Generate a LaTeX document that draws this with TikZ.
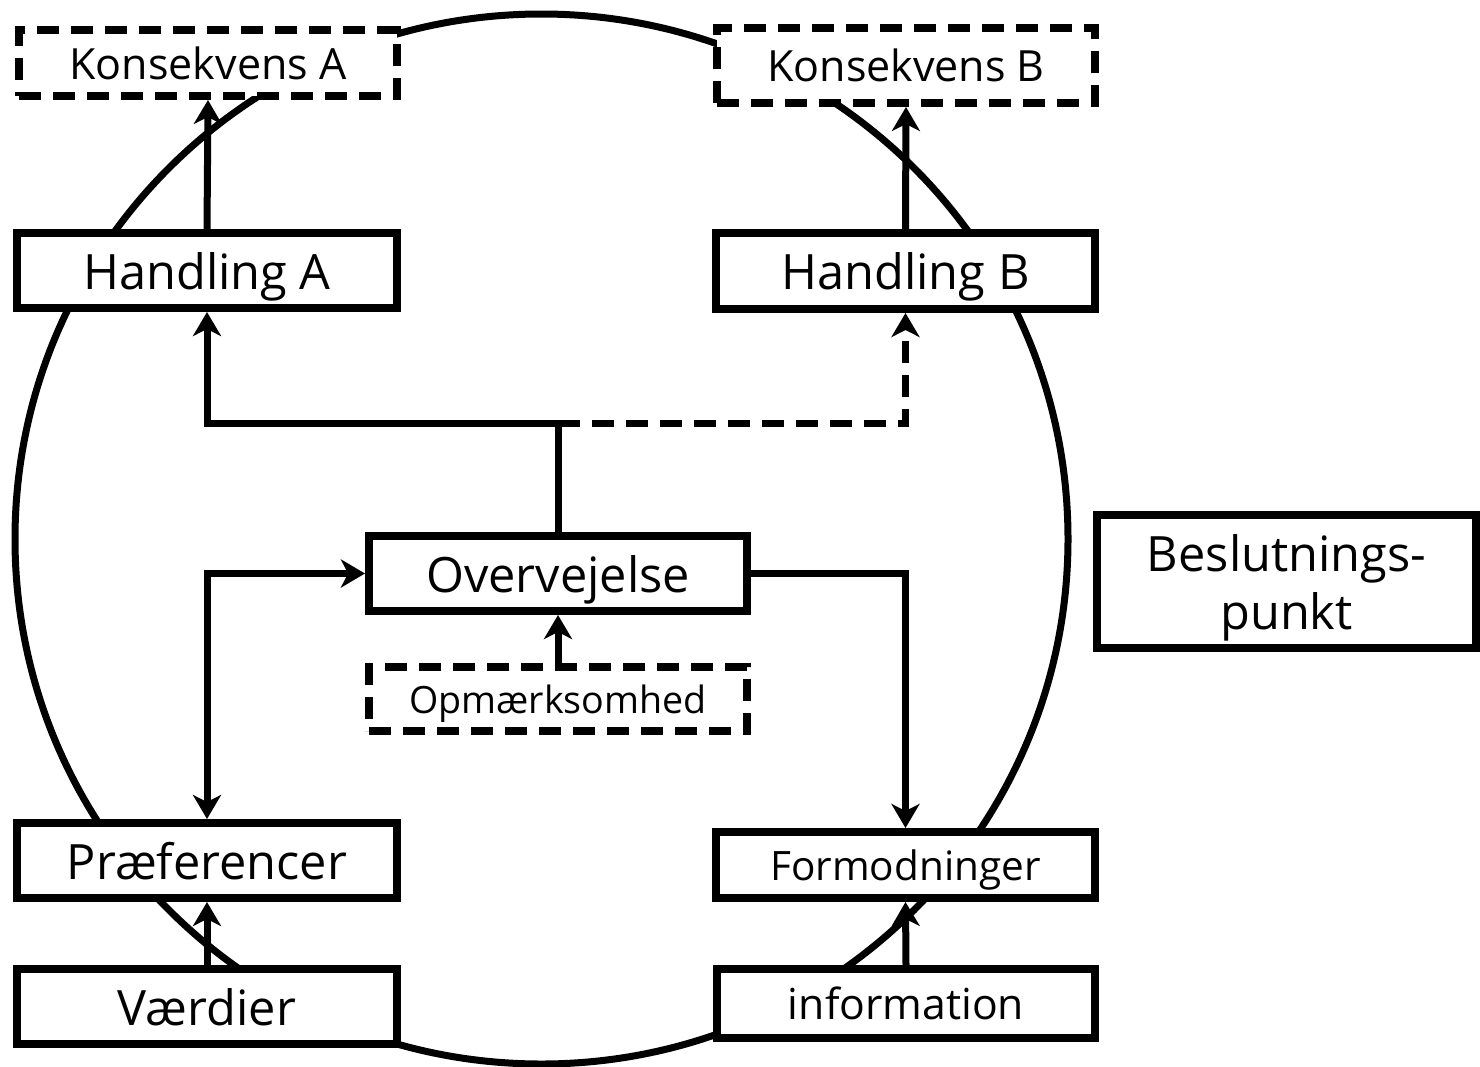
\documentclass[tikz,border=0pt]{standalone}
\usepackage{fontspec}
\setmainfont{Open Sans}
\usetikzlibrary{arrows.meta}
\tikzset{
  box/.style={draw=black, line width=8pt, fill=white, inner sep=0pt, anchor=north west, align=center, text depth=0pt},
  dbox/.style={box, dash pattern=on 22pt off 12pt},
  tip/.tip={Stealth[length=24pt,width=28pt,inset=7pt]},
  conn/.style={line width=7pt, -tip},
  dconn/.style={conn, dash pattern=on 22pt off 12pt},
  big/.style={font=\fontsize{48.7}{58}\selectfont},
  mid/.style={font=\fontsize{43}{50}\selectfont},
}
\begin{document}
\begin{tikzpicture}[x=1pt,y=-1pt]
\useasboundingbox (0,0) rectangle (1480,1066);
\draw[line width=7pt] (541.5,539) ellipse [x radius=526.5, y radius=525];
% nodes
\node[dbox, mid, minimum width=378pt, minimum height=66pt] (ka) at (15,26) {Konsekvens A};
\node[dbox, mid, minimum width=378pt, minimum height=75pt] (kb) at (713,24) {Konsekvens B};
\node[box, big, minimum width=380pt, minimum height=75pt] (ha) at (13,229) {Handling A};
\node[box, big, minimum width=379pt, minimum height=76pt] (hb) at (712,229) {Handling B};
\node[box, big, minimum width=378pt, minimum height=75pt] (ov) at (365,532) {Overvejelse};
\node[dbox, font=\fontsize{37.6}{44}\selectfont, minimum width=378pt, minimum height=64pt] (op) at (365,663) {Opmærksomhed};
\node[box, big, minimum width=380pt, minimum height=75pt] (pr) at (13,819) {Præferencer};
\node[box, font=\fontsize{40.5}{48}\selectfont, minimum width=379pt, minimum height=66pt] (fo) at (712,828) {Formodninger};
\node[box, big, minimum width=380pt, minimum height=75pt] (va) at (13,965) {Værdier};
\node[box, font=\fontsize{42.7}{50}\selectfont, minimum width=378pt, minimum height=69pt] (in) at (713,965) {information};
\node[box, big, minimum width=379pt, minimum height=133pt] (bp) at (1093,511) {Beslutnings-\\punkt};
\coordinate (j) at (ov.north |- 0,423);
\coordinate (pl) at (pr.north |- ov.west);
\coordinate (fr) at (fo.north |- ov.east);
% connectors
\draw[conn] (ha.north) -- (ka.south);
\draw[conn] (hb.north) -- (kb.south);
\draw[conn] (ov.north) -- (j) -| (ha.south);
\draw[dconn] (j) -| (hb.south);
\draw[conn, tip-tip] (pr.north) -- (pl) -- (ov.west);
\draw[conn] (ov.east) -- (fr) -- (fo.north);
\draw[conn] (op.north) -- (ov.south);
\draw[conn] (va.north) -- (pr.south);
\draw[conn] (in.north) -- (fo.south);
\end{tikzpicture}
\end{document}
